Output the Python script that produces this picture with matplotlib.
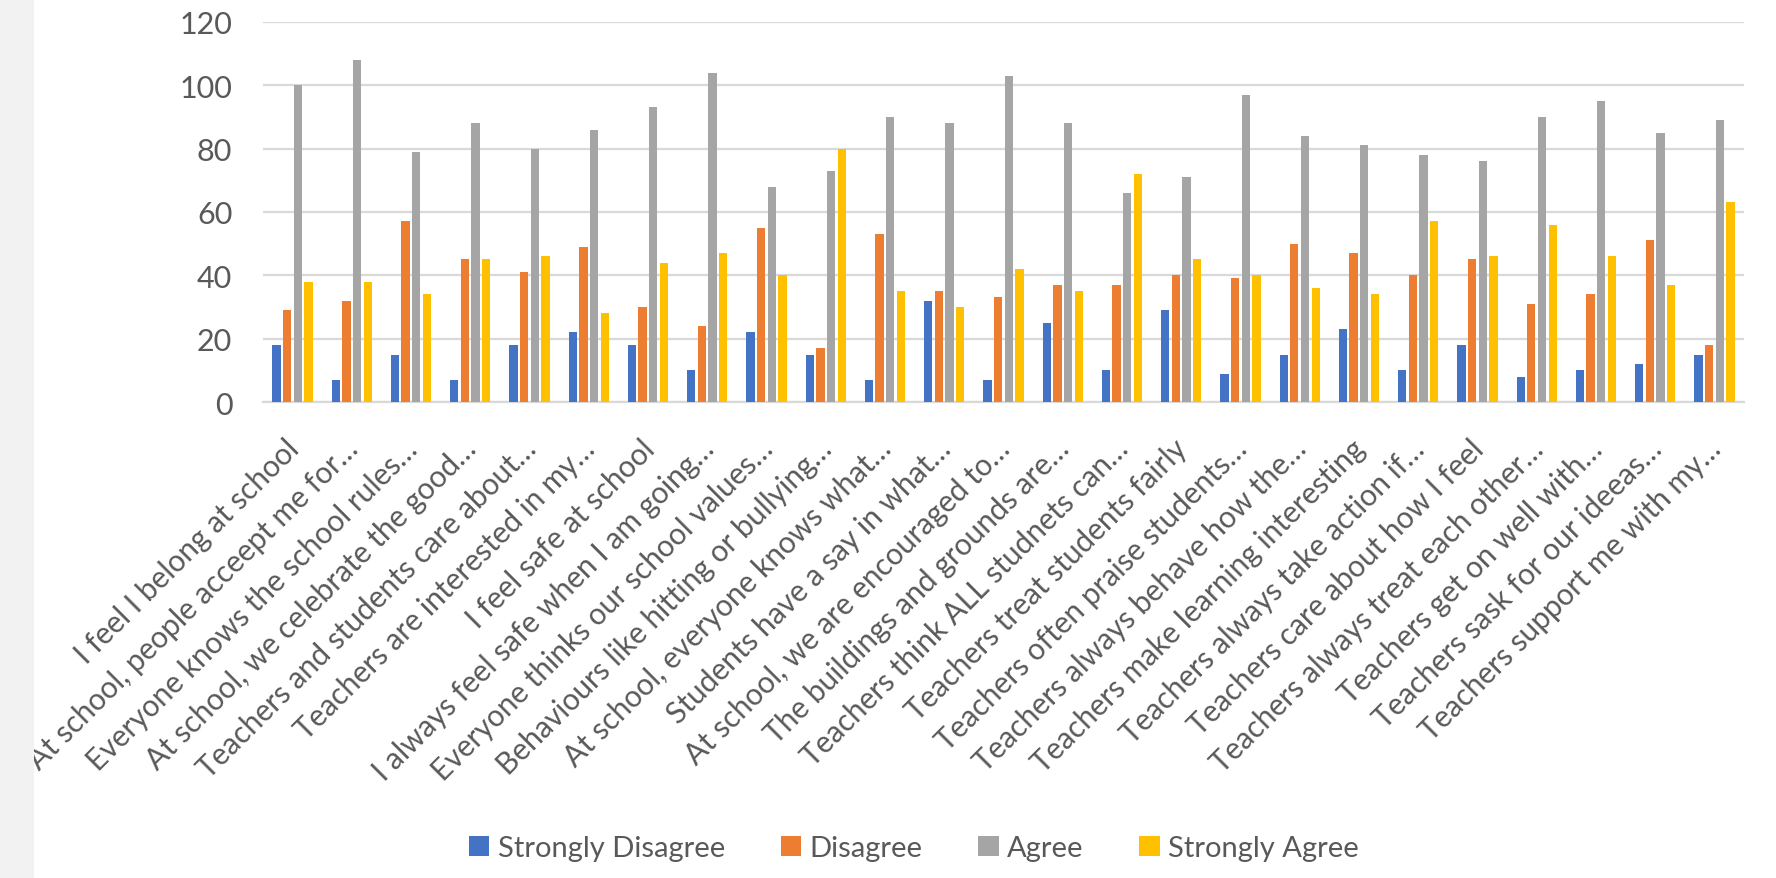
import matplotlib

matplotlib.use("Agg")
import matplotlib.pyplot as plt
import numpy as np
from matplotlib.patches import Rectangle
from matplotlib.transforms import ScaledTranslation

plt.rcParams["font.family"] = ["Lato", "DejaVu Sans"]

statements = [
    "I feel I belong at school",
    "At school, people acceept me for…",
    "Everyone knows the school rules…",
    "At school, we celebrate the good…",
    "Teachers and students care about…",
    "Teachers are interested in my…",
    "I feel safe at school",
    "I always feel safe when I am going…",
    "Everyone thinks our school values…",
    "Behaviours like hitting or bullying…",
    "At school, everyone knows what…",
    "Students have a say in what…",
    "At school, we are encouraged to…",
    "The buildings and grounds are…",
    "Teachers think ALL studnets can…",
    "Teachers treat students fairly",
    "Teachers often praise students…",
    "Teachers always behave how the…",
    "Teachers make learning interesting",
    "Teachers always take action if…",
    "Teachers care about how I feel",
    "Teachers always treat each other…",
    "Teachers get on well with…",
    "Teachers sask for our ideeas…",
    "Teachers support me with my…",
]

strongly_disagree = [18, 7, 15, 7, 18, 22, 18, 10, 22, 15, 7, 32, 7, 25, 10, 29, 9, 15, 23, 10, 18, 8, 10, 12, 15]
disagree = [29, 32, 57, 45, 41, 49, 30, 24, 55, 17, 53, 35, 33, 37, 37, 40, 39, 50, 47, 40, 45, 31, 34, 51, 18]
agree = [100, 108, 79, 88, 80, 86, 93, 104, 68, 73, 90, 88, 103, 88, 66, 71, 97, 84, 81, 78, 76, 90, 95, 85, 89]
strongly_agree = [38, 38, 34, 45, 46, 28, 44, 47, 40, 80, 35, 30, 42, 35, 72, 45, 40, 36, 34, 57, 46, 56, 46, 37, 63]

series = [
    ("Strongly Disagree", strongly_disagree, "#4472C4"),
    ("Disagree", disagree, "#ED7D31"),
    ("Agree", agree, "#A5A5A5"),
    ("Strongly Agree", strongly_agree, "#FFC000"),
]

TEXT = "#595959"
GRID = "#D9D9D9"

fig = plt.figure(figsize=(17.76, 8.79), dpi=100)
ax = fig.add_axes([0.148, 0.5415, 0.834, 0.4325])

# grey strip on the left edge sits on top of the clipped first label
fig.add_artist(Rectangle((0, 0), 34 / 1776, 1, transform=fig.transFigure,
                         facecolor="#F2F2F2", edgecolor="none", zorder=10))

x = np.arange(len(statements))
width = 0.14
step = 0.18
handles = []
for i, (name, vals, color) in enumerate(series):
    offset = (i - 1.5) * step
    h = ax.bar(x + offset, vals, width, color=color, label=name, zorder=3)
    handles.append(h)

ax.set_xlim(-0.5, len(statements) - 0.5)
ax.set_ylim(0, 120)
ax.set_yticks(range(0, 121, 20))
ax.yaxis.grid(True, color=GRID, linewidth=1.6, zorder=0)
ax.set_axisbelow(True)
for side in ["top", "right", "left"]:
    ax.spines[side].set_visible(False)
ax.spines["bottom"].set_color(GRID)
ax.spines["bottom"].set_linewidth(1.6)

ax.tick_params(axis="y", length=0, labelsize=22, labelcolor=TEXT, pad=22)
ax.tick_params(axis="x", length=0, labelsize=21.5, labelcolor=TEXT, pad=23)
ax.set_xticks(x)
ax.set_xticklabels(statements, rotation=45, ha="right", rotation_mode="anchor")
shift = ScaledTranslation(-8 / 100, 0, fig.dpi_scale_trans)
for lab in ax.get_xticklabels():
    lab.set_transform(lab.get_transform() + shift)

fig.legend(handles=handles, loc="center", bbox_to_anchor=(914 / 1776, 1 - 849 / 879),
           ncol=4, frameon=False, fontsize=21, labelcolor=TEXT,
           handlelength=0.7, handleheight=0.7, handletextpad=0.3, columnspacing=1.9)

fig.savefig("out.png", dpi=100)
